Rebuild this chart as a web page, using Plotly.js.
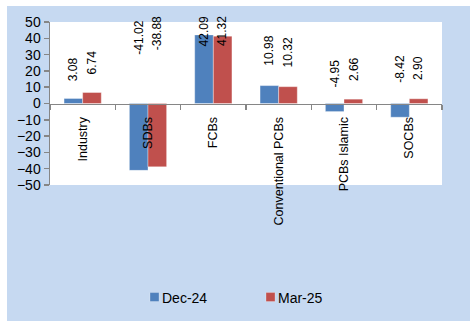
<!DOCTYPE html>
<html>
<head>
<meta charset="utf-8">
<script src="https://cdn.plot.ly/plotly-3.0.1.min.js"></script>
<style>
html,body{margin:0;padding:0;background:#fff;}
#chart{width:470px;height:321px;}
</style>
</head>
<body>
<div id="chart"></div>
<script>
// ---- data ----
var categories = ["Industry", "SDBs", "FCBs", "Conventional PCBs", "PCBs Islamic", "SOCBs"];
var seriesNames = ["Dec-24", "Mar-25"];
var dec24 = [3.08, -41.02, 42.09, 10.98, -4.95, -8.42];
var mar25 = [6.74, -38.88, 41.32, 10.32, 2.66, 2.90];
// vertical centre (in axis units) of each rotated data label
var dec24LabelY = [21.2, 40.2, 44.2, 32.6, 18.2, 21.3];
var mar25LabelY = [25.2, 43.3, 44.2, 31.3, 21.3, 21.6];
var yTicks = [50, 40, 30, 20, 10, 0, -10, -20, -30, -40, -50];

var colors = ["#4F81BD", "#C0504D"];
var font = "Liberation Sans, Arial, sans-serif";
var bargap = 0.43;
var offset = (1 - bargap) / 4;

var traces = [dec24, mar25].map(function (vals, k) {
  return {
    type: "bar",
    name: seriesNames[k],
    x: categories,
    y: vals,
    marker: {color: colors[k], line: {color: "rgba(255,255,255,0.6)", width: 0.6}},
    hoverinfo: "none"
  };
});

function fmt(v) { return v.toFixed(2); }
var annotations = [];
[[dec24, dec24LabelY, -offset], [mar25, mar25LabelY, offset]].forEach(function (s) {
  s[0].forEach(function (v, i) {
    annotations.push({
      x: i + s[2], y: s[1][i], xref: "x", yref: "y",
      text: fmt(v), textangle: -90, showarrow: false,
      xanchor: "center", yanchor: "middle",
      font: {family: font, size: 12, color: "#000"}
    });
  });
});

var layout = {
  width: 470, height: 321,
  margin: {l: 50, r: 28, t: 22, b: 136, autoexpand: false},
  paper_bgcolor: "#FFFFFF",
  plot_bgcolor: "#FFFFFF",
  barmode: "group",
  bargap: bargap,
  bargroupgap: 0,
  showlegend: true,
  legend: {
    orientation: "h", x: 0.1837, xanchor: "left", y: -0.69, yanchor: "middle",
    font: {family: font, size: 14, color: "#000"},
    bgcolor: "rgba(0,0,0,0)", entrywidth: 71
  },
  xaxis: {
    type: "category",
    anchor: "free", position: 0.5,
    showline: true, linecolor: "#868686", linewidth: 1.5,
    ticks: "outside", tickson: "boundaries", ticklen: 5, tickcolor: "#868686", tickwidth: 1.5,
    tickangle: -90, ticklabelstandoff: 7,
    tickfont: {family: font, size: 12.5, color: "#000"},
    showgrid: false, zeroline: false, automargin: false,
    range: [-0.5, 5.5]
  },
  yaxis: {
    range: [-50, 50],
    tickvals: yTicks,
    showline: true, linecolor: "#868686", linewidth: 1.5,
    ticks: "outside", ticklen: 5, tickcolor: "#868686", tickwidth: 1.5,
    tickfont: {family: font, size: 14, color: "#000"},
    showgrid: false, zeroline: false, automargin: false
  },
  shapes: [{
    type: "rect", xref: "paper", yref: "paper", layer: "below",
    x0: (7 - 50) / 392, x1: (470 - 50) / 392,
    y0: (185 - 321) / 163, y1: (185 - 6) / 163,
    fillcolor: "#C6D9F1", line: {width: 0}
  }, {
    type: "rect", xref: "paper", yref: "paper", layer: "below",
    x0: 0, x1: 1, y0: 0, y1: 1,
    fillcolor: "#FFFFFF", line: {width: 0}
  }],
  annotations: annotations
};

Plotly.newPlot("chart", traces, layout, {staticPlot: true, displayModeBar: false}).then(function () {
  // smaller legend swatches sitting close to their text, as in the original
  document.querySelectorAll(".legend .legendpoints path").forEach(function (p) {
    p.setAttribute("transform", "translate(32.5,0) scale(0.75)");
  });
});
</script>
</body>
</html>
